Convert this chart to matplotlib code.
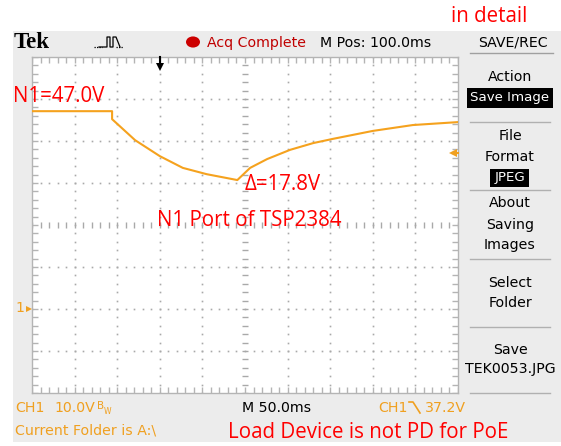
import matplotlib
matplotlib.use("Agg")
import matplotlib.pyplot as plt
from matplotlib.patches import Rectangle, Circle
from matplotlib.lines import Line2D
import numpy as np

# ---- data (time in ms, CH1 voltage in V) ----
time_ms = [0, 94, 94, 121, 150, 177, 205, 241, 256, 276, 303, 330, 353, 400, 447, 500]
volts = [47.1, 47.1, 45.2, 40.2, 36.4, 33.6, 32.1, 30.7, 33.6, 35.7, 37.9, 39.5, 40.5, 42.4, 43.8, 44.5]
trigger_level = 37.2
trigger_time = 150
menu_items = ["Action", "File", "Format", "About", "Saving", "Images", "Select", "Folder", "Save", "TEK0053.JPG"]

W, H = 561, 446
fig = plt.figure(figsize=(W / 100, H / 100), dpi=100)
fig.patch.set_facecolor("white")

def fx(x):
    return x / W

def fy(y):
    return 1 - y / H

ORANGE = "#f0a020"
TRACE = "#f5a21e"
RED = "#ff0000"
GRAYBG = "#ececec"
SC = ["DejaVu Sans"]
FS = 10.2

# scope background
fig.add_artist(Rectangle((fx(13), fy(442)), fx(561) - fx(13), fy(31) - fy(442),
                         transform=fig.transFigure, facecolor=GRAYBG, edgecolor="none", zorder=0))

# graticule axes
L, R, T, B = 32, 458, 57, 393
ax = fig.add_axes([fx(L), fy(B), fx(R) - fx(L), fy(T) - fy(B)])
ax.set_facecolor("white")
ax.set_xlim(0, 500)
ax.set_ylim(-20, 60)
ax.set_xticks([])
ax.set_yticks([])
for s in ax.spines.values():
    s.set_color("#b4b4b4")
    s.set_linewidth(1)

dotc = "#a9a9a9"
xs_fine = np.arange(0, 501, 10)
ys_fine = np.arange(-20, 61, 2)
for gx in range(50, 500, 50):
    if gx == 250:
        continue
    ax.plot([gx] * len(ys_fine), ys_fine, ls="none", marker="s", ms=1.2, color=dotc, mew=0)
for gy in range(-10, 60, 10):
    if gy == 20:
        continue
    ax.plot(xs_fine, [gy] * len(xs_fine), ls="none", marker="s", ms=1.2, color=dotc, mew=0)
ax.plot([250] * len(ys_fine), ys_fine, ls="none", marker="_", ms=5, color=dotc, mew=1)
ax.plot(xs_fine, [20] * len(xs_fine), ls="none", marker="|", ms=5, color=dotc, mew=1)
for bx in (0, 500):
    ax.plot([bx] * len(ys_fine), ys_fine, ls="none", marker="_", ms=8, color="#b4b4b4", mew=1)
for by in (-20, 60):
    ax.plot(xs_fine, [by] * len(xs_fine), ls="none", marker="|", ms=8, color="#b4b4b4", mew=1)

# trace
ax.plot(time_ms, volts, color=TRACE, lw=1.5, solid_joinstyle="round", zorder=5)

# trigger level arrow (right)
ax.plot([494], [trigger_level], marker="<", ms=6, color=ORANGE, mew=0, clip_on=False, zorder=6)
ax.plot([494, 500], [trigger_level, trigger_level], color=ORANGE, lw=1.5, clip_on=False, zorder=6)
# trigger time arrow (top)
ax.plot([trigger_time, trigger_time], [60, 58.2], color="black", lw=1.5, clip_on=False, zorder=6)
ax.plot([trigger_time], [57.6], marker="v", ms=6, color="black", mew=0, clip_on=False, zorder=6)
# ground marker
ax.plot([-3], [0], marker=">", ms=5, color=ORANGE, mew=0, clip_on=False)
fig.text(fx(15), fy(308), "1", color=ORANGE, fontsize=FS, va="center", ha="left", family=SC)

# header
fig.text(fx(14), fy(43), "Tek", fontsize=16.5, fontweight="bold", family="Liberation Serif",
         va="center", ha="left")
px = [99, 102, 103, 107, 107, 110, 110, 113, 113, 116, 120]
py = [47, 47, 47, 47, 37, 37, 47, 47, 37, 37, 47]
fig.add_artist(Line2D([fx(v) for v in px], [fy(v) for v in py], transform=fig.transFigure,
                      color="black", lw=0.9))
fig.add_artist(Line2D([fx(116), fx(123)], [fy(47), fy(47)], transform=fig.transFigure,
                      color="black", lw=0.9, ls=(0, (1, 1))))
fig.add_artist(Line2D([fx(94), fx(102)], [fy(47), fy(47)], transform=fig.transFigure,
                      color="black", lw=0.9, ls=(0, (1, 1))))
fig.add_artist(Circle((fx(193), fy(42)), 7 / W, transform=fig.transFigure,
                      facecolor="#cc0000", edgecolor="none"))
fig.text(fx(207), fy(43), "Acq Complete", color="#c00000", fontsize=FS, family=SC,
         va="center", ha="left")
fig.text(fx(320), fy(43), "M Pos: 100.0ms", color="black", fontsize=FS, family=SC,
         va="center", ha="left")
fig.text(fx(513), fy(43), "SAVE/REC", color="black", fontsize=FS, family=SC,
         va="center", ha="center")
fig.add_artist(Line2D([fx(470), fx(553)], [fy(53), fy(53)], transform=fig.transFigure,
                      color="#a0a0a0", lw=1))

# right menu
menu_y = [77, 136, 157, 203, 225, 245, 283, 303, 350, 369]
for t, yy in zip(menu_items, menu_y):
    fig.text(fx(510), fy(yy), t, color="black", fontsize=FS, family=SC, va="center", ha="center")
fig.add_artist(Rectangle((fx(467), fy(108)), fx(553) - fx(467), fy(88) - fy(108),
                         transform=fig.transFigure, facecolor="black", edgecolor="none"))
fig.text(fx(510), fy(98), "Save Image", color="white", fontsize=9.6, family=SC,
         va="center", ha="center")
fig.add_artist(Rectangle((fx(490), fy(187)), fx(529) - fx(490), fy(169) - fy(187),
                         transform=fig.transFigure, facecolor="black", edgecolor="none"))
fig.text(fx(509.5), fy(178), "JPEG", color="white", fontsize=9.6, family=SC,
         va="center", ha="center")
for sy in (122, 190, 259, 327, 393):
    fig.add_artist(Line2D([fx(470), fx(550)], [fy(sy), fy(sy)], transform=fig.transFigure,
                          color="#b0b0b0", lw=1))

# bottom status
fig.text(fx(15), fy(408), "CH1", color=ORANGE, fontsize=FS, family=SC, va="center", ha="left")
fig.text(fx(54), fy(408), "10.0V", color=ORANGE, fontsize=FS, family=SC, va="center", ha="left")
fig.text(fx(96.5), fy(406), "B", color=ORANGE, fontsize=7.5, family=SC, va="center", ha="left")
fig.text(fx(104), fy(412), "W", color=ORANGE, fontsize=5.5, family=SC, va="center", ha="left")
fig.text(fx(242), fy(408), "M 50.0ms", color="black", fontsize=FS, family=SC, va="center", ha="left")
fig.text(fx(378), fy(408), "CH1", color=ORANGE, fontsize=FS, family=SC, va="center", ha="left")
fig.add_artist(Line2D([fx(409), fx(413), fx(420)], [fy(402), fy(402), fy(413)],
                      transform=fig.transFigure, color=ORANGE, lw=1.2))
fig.text(fx(425), fy(408), "37.2V", color=ORANGE, fontsize=FS, family=SC, va="center", ha="left")
fig.text(fx(15), fy(430), "Current Folder is A:\\", color=ORANGE, fontsize=FS, family=SC,
         va="center", ha="left")

# red annotations
ANN = ["Open Sans", "DejaVu Sans"]
AF = 14.8
fig.text(fx(451), fy(17), "in detail", color=RED, fontsize=14.8, family=ANN, va="center", ha="left")
fig.text(fx(13), fy(97), "N1=47.0V", color=RED, fontsize=AF, family=ANN, va="center", ha="left")
fig.text(fx(245), fy(185), "Δ=17.8V", color=RED, fontsize=AF, family=ANN, va="center", ha="left")
fig.text(fx(157), fy(220), "N1 Port of TSP2384", color=RED, fontsize=AF, family=ANN, va="center", ha="left")
fig.text(fx(228), fy(432), "Load Device is not PD for PoE", color=RED, fontsize=AF, family=ANN,
         va="center", ha="left")

fig.savefig("out.png", dpi=100, facecolor="white")
